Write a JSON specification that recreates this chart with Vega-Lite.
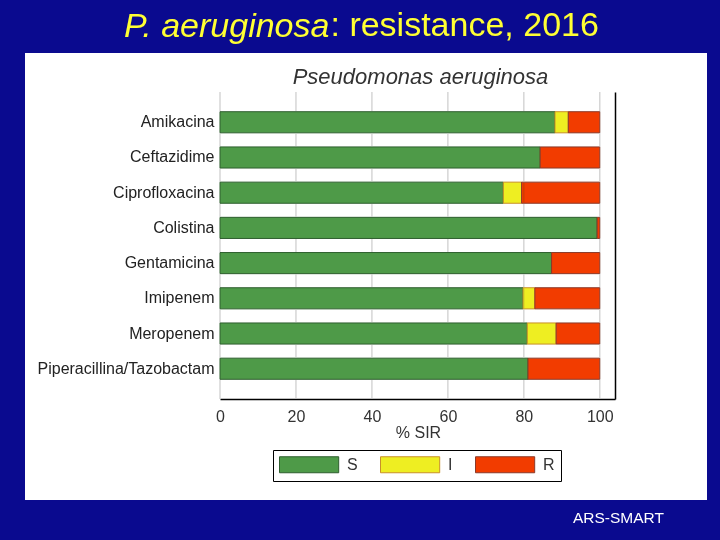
{
  "$schema": "https://vega.github.io/schema/vega-lite/v6.json",
  "width": 682,
  "height": 447,
  "autosize": {"type": "none"},
  "padding": {"left": 25, "top": 53, "right": 13, "bottom": 40},
  "background": "#0a0a8f",
  "view": {"fill": "white", "stroke": null},
  "title": {
    "text": "P. aeruginosa",
    "anchor": "start",
    "frame": "group",
    "dx": 99,
    "offset": -36,
    "font": "Liberation Sans",
    "fontSize": 34,
    "fontStyle": "italic",
    "fontWeight": "normal",
    "color": "#ffff33"
  },
  "datasets": {
    "gridlines": [{"g": 0}, {"g": 20}, {"g": 40}, {"g": 60}, {"g": 80}, {"g": 100}],
    "sir": [
      {"drug": "Amikacina", "cat": "S", "k": 1, "v": 88.2},
      {"drug": "Amikacina", "cat": "I", "k": 2, "v": 3.5},
      {"drug": "Amikacina", "cat": "R", "k": 3, "v": 8.3},
      {"drug": "Ceftazidime", "cat": "S", "k": 1, "v": 84.3},
      {"drug": "Ceftazidime", "cat": "R", "k": 3, "v": 15.7},
      {"drug": "Ciprofloxacina", "cat": "S", "k": 1, "v": 74.6},
      {"drug": "Ciprofloxacina", "cat": "I", "k": 2, "v": 4.8},
      {"drug": "Ciprofloxacina", "cat": "R", "k": 3, "v": 20.6},
      {"drug": "Colistina", "cat": "S", "k": 1, "v": 99.3},
      {"drug": "Colistina", "cat": "R", "k": 3, "v": 0.7},
      {"drug": "Gentamicina", "cat": "S", "k": 1, "v": 87.3},
      {"drug": "Gentamicina", "cat": "R", "k": 3, "v": 12.7},
      {"drug": "Imipenem", "cat": "S", "k": 1, "v": 79.8},
      {"drug": "Imipenem", "cat": "I", "k": 2, "v": 3.1},
      {"drug": "Imipenem", "cat": "R", "k": 3, "v": 17.1},
      {"drug": "Meropenem", "cat": "S", "k": 1, "v": 80.9},
      {"drug": "Meropenem", "cat": "I", "k": 2, "v": 7.6},
      {"drug": "Meropenem", "cat": "R", "k": 3, "v": 11.5},
      {"drug": "Piperacillina/Tazobactam", "cat": "S", "k": 1, "v": 81.1},
      {"drug": "Piperacillina/Tazobactam", "cat": "R", "k": 3, "v": 18.9}
    ]
  },
  "layer": [
    {
      "data": {"name": "sir"},
      "mark": {"type": "bar", "strokeWidth": 1},
      "encoding": {
        "y": {
          "field": "drug",
          "type": "nominal",
          "sort": ["Amikacina", "Ceftazidime", "Ciprofloxacina", "Colistina", "Gentamicina", "Imipenem", "Meropenem", "Piperacillina/Tazobactam"],
          "scale": {"range": [39, 346], "paddingInner": 0.4, "paddingOuter": 0.56},
          "axis": {
            "orient": "left",
            "offset": -195,
            "ticks": false,
            "domain": false,
            "grid": false,
            "labelFont": "Liberation Sans",
            "labelFontSize": 16,
            "labelColor": "#222222",
            "labelPadding": 6,
            "labelLimit": 0,
            "title": ": resistance, 2016",
            "titleAngle": 0,
            "titleX": 110,
            "titleY": -18,
            "titleAlign": "left",
            "titleBaseline": "alphabetic",
            "titleFont": "Liberation Sans",
            "titleFontSize": 34,
            "titleFontWeight": "normal",
            "titleColor": "#ffff33"
          }
        },
        "x": {
          "field": "v",
          "type": "quantitative",
          "stack": "zero",
          "scale": {"domain": [0, 104], "range": [195, 590], "nice": false},
          "axis": {
            "orient": "bottom",
            "offset": -101,
            "values": [0, 20, 40, 60, 80, 100],
            "grid": false,
            "ticks": false,
            "domain": true,
            "domainColor": "#000000",
            "domainWidth": 1.5,
            "labelFont": "Liberation Sans",
            "labelFontSize": 16,
            "labelColor": "#333333",
            "labelPadding": 9,
            "labelFlush": false,
            "title": "% SIR",
            "titleX": 393,
            "titleY": 33,
            "titleAlign": "center",
            "titleBaseline": "middle",
            "titleFont": "Liberation Sans",
            "titleFontSize": 16,
            "titleFontWeight": "normal",
            "titleColor": "#333333"
          }
        },
        "fill": {
          "field": "cat",
          "type": "nominal",
          "scale": {"domain": ["S", "I", "R"], "range": ["#4e9a48", "#eeee22", "#f23c00"]},
          "legend": {
            "orient": "none",
            "legendX": 248,
            "legendY": 397,
            "direction": "horizontal",
            "columns": 3,
            "title": null,
            "strokeColor": "#000000",
            "fillColor": "#ffffff",
            "padding": 6,
            "symbolType": "M-1,-1H6.4V1H-1Z",
            "symbolSize": 256,
            "symbolStrokeWidth": 1,
            "labelFont": "Liberation Sans",
            "labelFontSize": 16,
            "labelColor": "#333333",
            "labelOffset": 51,
            "columnPadding": 20
          }
        },
        "stroke": {
          "field": "cat",
          "type": "nominal",
          "scale": {"domain": ["S", "I", "R"], "range": ["#2e5e2e", "#c8902a", "#8a3a2a"]},
          "legend": {
            "orient": "none",
            "legendX": 248,
            "legendY": 397,
            "direction": "horizontal",
            "columns": 3,
            "title": null,
            "strokeColor": "#000000",
            "fillColor": "#ffffff",
            "padding": 6,
            "symbolType": "M-1,-1H6.4V1H-1Z",
            "symbolSize": 256,
            "symbolStrokeWidth": 1,
            "labelFont": "Liberation Sans",
            "labelFontSize": 16,
            "labelColor": "#333333",
            "labelOffset": 51,
            "columnPadding": 20
          }
        },
        "order": {"field": "k", "type": "quantitative"}
      }
    },
    {
      "data": {"name": "gridlines"},
      "mark": {"type": "rule", "stroke": "#cccccc", "strokeWidth": 1.2, "blend": "darken"},
      "encoding": {
        "x": {
          "field": "g",
          "type": "quantitative",
          "axis": {
            "orient": "top",
            "offset": -39,
            "labels": false,
            "ticks": false,
            "domain": false,
            "grid": false,
            "title": "Pseudomonas aeruginosa",
            "titleX": 395,
            "titleY": -9,
            "titleAlign": "center",
            "titleBaseline": "alphabetic",
            "titleFont": "Liberation Sans",
            "titleFontSize": 22,
            "titleFontStyle": "italic",
            "titleFontWeight": "normal",
            "titleColor": "#333333"
          }
        },
        "y": {
          "datum": 0,
          "type": "quantitative",
          "scale": {"domain": [0, 1], "range": [39, 346], "nice": false, "zero": false},
          "axis": {
            "orient": "right",
            "offset": -92,
            "labels": false,
            "ticks": false,
            "grid": false,
            "domain": true,
            "domainColor": "#000000",
            "domainWidth": 1.5,
            "title": "ARS-SMART",
            "titleAngle": 0,
            "titleX": 3,
            "titleY": 464,
            "titleAlign": "center",
            "titleBaseline": "middle",
            "titleFont": "Liberation Sans",
            "titleFontSize": 15.5,
            "titleFontWeight": "normal",
            "titleColor": "#ffffff"
          }
        },
        "y2": {"datum": 1}
      }
    }
  ],
  "resolve": {"scale": {"y": "independent"}, "axis": {"x": "independent", "y": "independent"}}
}
